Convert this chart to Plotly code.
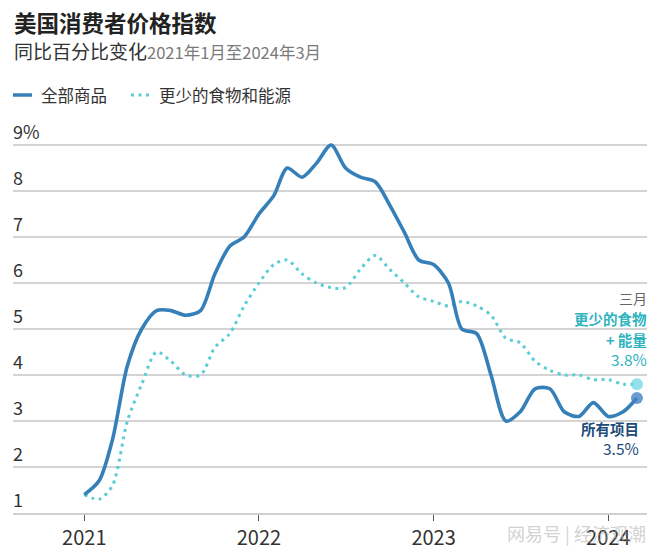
import plotly.graph_objects as go

# ---- data ----
months = [f"{y}-{m:02d}-01" for y in range(2021, 2025) for m in range(1, 13)][:39]
all_items = [1.4, 1.7, 2.6, 4.2, 5.0, 5.4, 5.4, 5.3, 5.4, 6.2, 6.8, 7.0,
             7.5, 7.9, 8.5, 8.3, 8.6, 9.0, 8.5, 8.3, 8.2, 7.7, 7.1, 6.5,
             6.4, 6.0, 5.0, 4.9, 4.0, 3.0, 3.2, 3.7, 3.7, 3.2, 3.1, 3.4,
             3.1, 3.2, 3.5]
core = [1.4, 1.3, 1.6, 3.0, 3.8, 4.5, 4.3, 4.0, 4.0, 4.6, 4.9, 5.5,
        6.0, 6.4, 6.5, 6.2, 6.0, 5.9, 5.9, 6.3, 6.6, 6.3, 6.0, 5.7,
        5.6, 5.5, 5.6, 5.5, 5.3, 4.8, 4.7, 4.3, 4.1, 4.0, 4.0, 3.9,
        3.9, 3.8, 3.8]
y_ticks = [1, 2, 3, 4, 5, 6, 7, 8, 9]
y_ticktext = ["1", "2", "3", "4", "5", "6", "7", "8", "9%"]
x_ticks = ["2021-01-01", "2022-01-01", "2023-01-01", "2024-01-01"]
x_ticktext = ["2021", "2022", "2023", "2024"]

BLUE = "#3580b8"
TEAL = "#5ccdd6"
TEAL_TXT = "#2fb4c0"
DARK = "#1d4d78"
FONT = "Noto Sans CJK SC"

# page body has an 8px margin; size the figure so it fills the rest of the window
OFF = 8
W, H = 660 - OFF, 553 - OFF
# plot area in reference-picture pixels
L_REF, R_REF, T_REF, B_REF = 13, 647, 99, 513
L, R, T, B = L_REF - OFF, R_REF - OFF, T_REF - OFF, B_REF - OFF


def fx(px):
    return (px - L_REF) / (R_REF - L_REF)


def fy(py):
    return (B_REF - py) / (B_REF - T_REF)


fig = go.Figure()
fig.add_trace(go.Scatter(x=months, y=core, mode="lines",
                         line=dict(color=TEAL, width=3, dash="3px,4.5px", shape="spline", smoothing=0.8),
                         hoverinfo="skip", showlegend=False))
fig.add_trace(go.Scatter(x=months, y=all_items, mode="lines",
                         line=dict(color=BLUE, width=3.6, shape="spline", smoothing=0.8),
                         hoverinfo="skip", showlegend=False))
fig.add_trace(go.Scatter(x=[months[-1]], y=[core[-1]], mode="markers",
                         marker=dict(size=12, color="rgba(110,215,230,0.75)", line=dict(width=0)),
                         hoverinfo="skip", showlegend=False))
fig.add_trace(go.Scatter(x=[months[-1]], y=[all_items[-1]], mode="markers",
                         marker=dict(size=12, color="rgba(70,130,195,0.8)", line=dict(width=0)),
                         hoverinfo="skip", showlegend=False))

annotations = [
    dict(text="<b>美国消费者价格指数</b>", x=fx(12), y=fy(22), xanchor="left", yanchor="middle",
         font=dict(family=FONT, size=22.5, color="#222")),
    dict(text="同比百分比变化<span style='color:#7a7a7a;font-size:16.5px'>2021年1月至2024年3月</span>",
         x=fx(12), y=fy(51), xanchor="left", yanchor="middle",
         font=dict(family=FONT, size=19, color="#333")),
    dict(text="全部商品", x=fx(39), y=fy(95), xanchor="left", yanchor="middle",
         font=dict(family=FONT, size=16.5, color="#333")),
    dict(text="更少的食物和能源", x=fx(157), y=fy(95), xanchor="left", yanchor="middle",
         font=dict(family=FONT, size=16.5, color="#333")),
    dict(text="三月", x=fx(649), y=fy(298), xanchor="right", yanchor="middle",
         font=dict(family=FONT, size=14, color="#666")),
    dict(text="<b>更少的食物</b>", x=fx(649), y=fy(318), xanchor="right", yanchor="middle",
         font=dict(family=FONT, size=14.5, color=TEAL_TXT)),
    dict(text="<b>+ 能量</b>", x=fx(649), y=fy(339), xanchor="right", yanchor="middle",
         font=dict(family=FONT, size=14.5, color=TEAL_TXT)),
    dict(text="3.8%", x=fx(649), y=fy(359), xanchor="right", yanchor="middle",
         font=dict(family=FONT, size=15.5, color=TEAL_TXT)),
    dict(text="<b>所有项目</b>", x=fx(641), y=fy(428), xanchor="right", yanchor="middle",
         font=dict(family=FONT, size=14.5, color=DARK)),
    dict(text="3.5%", x=fx(641), y=fy(448), xanchor="right", yanchor="middle",
         font=dict(family=FONT, size=15.5, color=DARK)),
    dict(text="网易号 | 经济观潮", x=fx(648), y=fy(533), xanchor="right", yanchor="middle",
         font=dict(family=FONT, size=18, color="rgba(165,165,165,0.5)")),
]
for a in annotations:
    a.update(xref="paper", yref="paper", showarrow=False)

shapes = [
    dict(type="line", xref="paper", yref="paper", x0=fx(13), x1=fx(32), y0=fy(95), y1=fy(95),
         line=dict(color=BLUE, width=3.5)),
    dict(type="line", xref="paper", yref="paper", x0=fx(131), x1=fx(151), y0=fy(95), y1=fy(95),
         line=dict(color=TEAL, width=3, dash="3px,4.5px")),
]

fig.update_layout(
    width=W, height=H,
    margin=dict(l=L, r=W - R, t=T, b=H - B, pad=0, autoexpand=False),
    paper_bgcolor="white", plot_bgcolor="white",
    showlegend=False,
    annotations=annotations, shapes=shapes,
    font=dict(family=FONT, color="#333"),
    xaxis=dict(type="date", range=["2020-08-05", "2024-03-22"],
               tickvals=x_ticks, ticktext=x_ticktext, automargin=False,
               showgrid=False, zeroline=False,
               showline=True, linecolor="#cfcfcf", linewidth=1.5,
               ticks="outside", ticklen=6, tickwidth=1, tickcolor="#555",
               tickfont=dict(family=FONT, size=20, color="#333"), ticklabelstandoff=0),
    yaxis=dict(range=[1, 10], tickvals=y_ticks, ticktext=y_ticktext, automargin=False,
               showgrid=True, gridcolor="#d4d4d4", gridwidth=1.5,
               zeroline=False, showline=False, ticks="",
               ticklabelposition="inside top", ticklabelstandoff=-3,
               tickfont=dict(family=FONT, size=18, color="#333")),
)

fig.write_html("out.html")
